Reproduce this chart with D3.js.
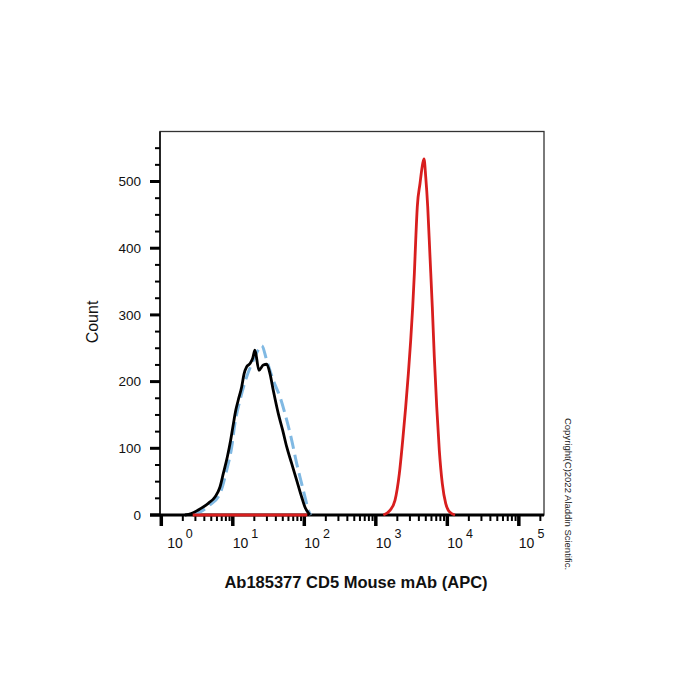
<!DOCTYPE html>
<html><head><meta charset="utf-8">
<script src="https://cdn.jsdelivr.net/npm/d3@7"></script>
<style>body{margin:0;background:#fff}svg{display:block}text{font-family:"Liberation Sans",Arial,sans-serif}</style>
</head><body><svg id="c" width="700" height="700"></svg>
<script>
// Isotype / unstained control (black solid)
const blackX = [2.14,2.63,3.29,4.54,5.64,6.62,7.36,8.38,9.33,10.2,11.0,11.9,13.3,14.4,15.6,17.4,19.0,20.4,23.2,26.7,29.8,33.1,36.8,43.3,49.9,56.8,66.7,78.3,91.8,102,114,120];
const blackY = [0,2,7.5,17.5,27,42,62,87,112,137,157,172,192,212,222,227,235,247,217,225,226,212,187,152,127,102,77,52,27,12,3,0];
// Blank control (blue dashed)
const blueX = [2.82,4.79,6.61,8.20,9.66,10.7,12.6,15.6,19.4,23.5,25.4,29.8,36.8,45.7,53.7,66.7,78.3,91.8,105,114,123];
const blueY = [0,15,32,67,102,137,172,207,232,250,254,232,202,177,152,112,77,47,22,7,0];
// Ab185377 stained (red)
const redX = [2.75,110,null,1274,1578,1854,2133,2377,2618,2851,3076,3281,3459,3614,3802,4150,4529,4721,4989,5321,5728,6166,6577,7112,7727,8511,9506,10666,12823];
const redY = [0,0,null,0,7,22,62,112,162,212,262,312,362,412,462,497,527,534,507,462,387,312,237,162,97,47,17,5,0];

const yMajor = [0,100,200,300,400,500];
const yMinor = d3.range(25,575,25).filter(v=>v%100!==0);
const xMajor = [1,10,100,1000,10000,100000];
const xExps = ["0","1","2","3","4","5"];
const xMinor = [];
for (let e=0;e<=5;e++) for (let m=2;m<=9;m++){const v=m*Math.pow(10,e); if(v<=2e5) xMinor.push(v);}

const xTitle = "Ab185377 CD5 Mouse mAb (APC)";
const yTitle = "Count";
const copyright = "Copyright(C)2022 Aladdin Scientific.";

const svg = d3.select("#c");
const L=160,R=544,T=131.5,B=515;
const x = d3.scaleLog().domain([Math.pow(10,-0.018),Math.pow(10,5.352)]).range([L,R]);
const y = d3.scaleLinear().domain([0,575]).range([B,T]);

// box
svg.append("rect").attr("x",L).attr("y",T).attr("width",R-L).attr("height",B-T)
  .attr("fill","none").attr("stroke","#333").attr("stroke-width",1.3);
svg.append("line").attr("x1",L).attr("x2",L).attr("y1",T).attr("y2",B).attr("stroke","#111").attr("stroke-width",1.6);

// y ticks
svg.selectAll(".ymaj").data(yMajor).join("line").attr("x1",L-10).attr("x2",L)
  .attr("y1",d=>y(d)).attr("y2",d=>y(d)).attr("stroke","#000").attr("stroke-width",3);
svg.selectAll(".ymin").data(yMinor).join("line").attr("x1",L-5).attr("x2",L)
  .attr("y1",d=>y(d)).attr("y2",d=>y(d)).attr("stroke","#000").attr("stroke-width",2);
svg.selectAll(".ylab").data(yMajor).join("text").attr("x",L-19).attr("y",d=>y(d)).attr("dy","0.35em")
  .attr("text-anchor","end").attr("font-size",13.5).attr("fill","#111").text(d=>d);

// x axis line & ticks
svg.append("line").attr("x1",L-10).attr("x2",R).attr("y1",B).attr("y2",B).attr("stroke","#000").attr("stroke-width",3);
svg.selectAll(".xmaj").data(xMajor).join("line").attr("x1",d=>x(d)).attr("x2",d=>x(d))
  .attr("y1",B).attr("y2",B+11).attr("stroke","#000").attr("stroke-width",3.5);
svg.selectAll(".xmin").data(xMinor).join("line").attr("x1",d=>x(d)).attr("x2",d=>x(d))
  .attr("y1",B).attr("y2",B+6).attr("stroke","#000").attr("stroke-width",2);
const xl = svg.selectAll(".xlab").data(xMajor).join("text")
  .attr("x",(d,i)=>x(d)+(i===0?6:0)).attr("y",B+33).attr("font-size",14).attr("fill","#111");
xl.append("tspan").text("10");
xl.append("tspan").attr("dx",3).attr("dy",-10).attr("font-size",12.5).text((d,i)=>xExps[i]);

// curves
const line = d3.line().defined(d=>d[0]!=null).x(d=>x(d[0])).y(d=>y(d[1])).curve(d3.curveMonotoneX);
svg.append("path").datum(blueX.map((v,i)=>[v,blueY[i]])).attr("d",line)
  .attr("fill","none").attr("stroke","#80b9e3").attr("stroke-width",3).attr("stroke-dasharray","13,6");
svg.append("path").datum(blackX.map((v,i)=>[v,blackY[i]])).attr("d",line)
  .attr("fill","none").attr("stroke","#000").attr("stroke-width",2.8).attr("stroke-linejoin","round");
svg.append("path").datum(redX.map((v,i)=>[v,redY[i]])).attr("d",line)
  .attr("fill","none").attr("stroke","#d81e1e").attr("stroke-width",2.8).attr("stroke-linejoin","round");

// titles
svg.append("text").attr("x",356).attr("y",588).attr("text-anchor","middle").attr("font-size",16.5)
  .attr("font-weight","bold").attr("fill","#111").text(xTitle);
svg.append("text").attr("transform","translate(98,322) rotate(-90)").attr("text-anchor","middle")
  .attr("font-size",16).attr("fill","#111").text(yTitle);
svg.append("text").attr("transform","translate(565,494) rotate(90)").attr("text-anchor","middle")
  .attr("font-size",9.5).attr("fill","#222").text(copyright);
</script></body></html>
